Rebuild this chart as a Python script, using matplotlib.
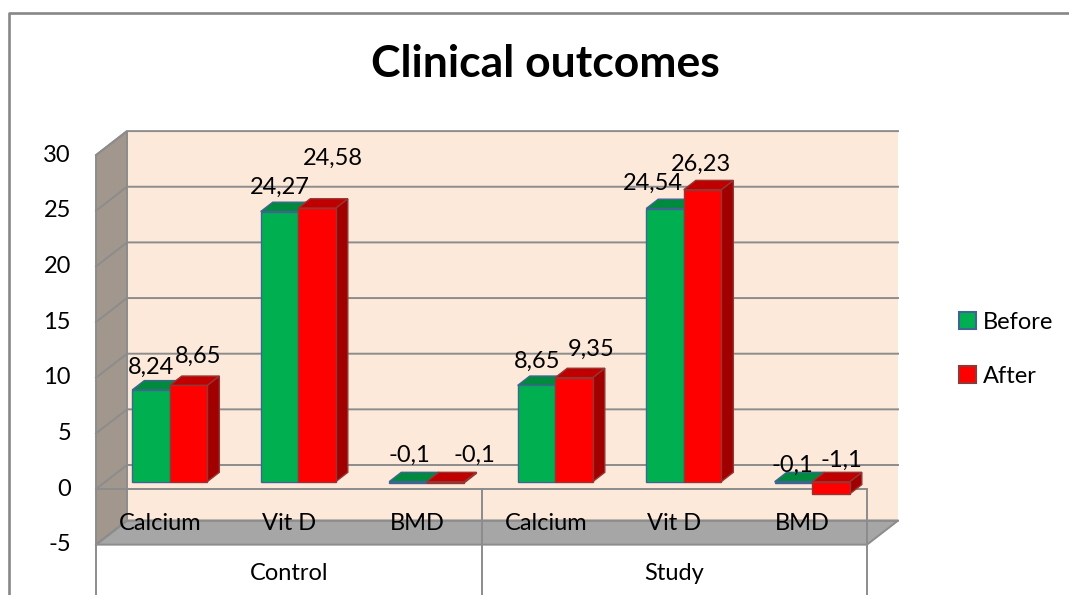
import matplotlib
matplotlib.use("Agg")
import matplotlib.pyplot as plt
from matplotlib.patches import Polygon, Patch
from matplotlib.lines import Line2D
from matplotlib.transforms import offset_copy

plt.rcParams['font.family'] = ['Lato', 'DejaVu Sans']

# ---- data ----
groups = ["Control", "Study"]
measures = ["Calcium", "Vit D", "BMD", "Calcium", "Vit D", "BMD"]
series_names = ["Before", "After"]
before = [8.24, 24.27, -0.1, 8.65, 24.54, -0.1]
after = [8.65, 24.58, -0.1, 9.35, 26.23, -1.1]
y_ticks = [-5, 0, 5, 10, 15, 20, 25, 30]

# ---- layout (pixels) ----
W, H, DPI = 1069, 595, 100
CAT_PX = 128.5          # width of one category on the front plane
X0_PX = 96              # left edge of the front plane
VAL_PX = 11.13          # pixels per value unit
Y0_PX = 489             # value 0 on the front plane
DEPTH_X_PX, DEPTH_Y_PX = 31, 24   # oblique depth offset of the back wall
FS = 17                 # text size of labels

DX = DEPTH_X_PX / CAT_PX
DY = DEPTH_Y_PX / VAL_PX
Z0, Z1 = 0.305, 0.695   # bar depth range
HALF = 0.292            # width of one bar in category units
VMIN, VMAX = y_ticks[0], y_ticks[-1]
n = len(measures)

colors = {
    "Before": dict(front="#00b050", top="#008a3e", side="#00733a", edge="#3f6494"),
    "After": dict(front="#ff0000", top="#c00000", side="#a00000", edge="#943634"),
}
grid_c = "#8c8c8c"


def proj(x, v, z):
    return (x + z * DX, v + z * DY)


fig = plt.figure(figsize=(W / DPI, H / DPI), dpi=DPI)
ax = fig.add_axes([0, 0, 1, 1])
ax.set_xlim(-0.5 - X0_PX / CAT_PX, -0.5 + (W - X0_PX) / CAT_PX)
ax.set_ylim((Y0_PX - H) / VAL_PX, Y0_PX / VAL_PX)
ax.axis("off")

# chart area frame (top and left edges)
fig.add_artist(Line2D([9 / W, 9 / W, 1.01], [-0.01, 1 - 13 / H, 1 - 13 / H],
                      color="#878787", lw=1.9))

xl, xr = -0.5, n - 0.5

# back wall
ax.add_patch(Polygon([proj(xl, VMIN, 1), proj(xr, VMIN, 1), proj(xr, VMAX, 1), proj(xl, VMAX, 1)],
                     closed=True, fc="#fde9d9", ec="none", zorder=1))
# left wall
ax.add_patch(Polygon([proj(xl, VMIN, 0), proj(xl, VMIN, 1), proj(xl, VMAX, 1), proj(xl, VMAX, 0)],
                     closed=True, fc="#a1978d", ec=grid_c, lw=1.4, zorder=1))
# floor
ax.add_patch(Polygon([proj(xl, VMIN, 0), proj(xr, VMIN, 0), proj(xr, VMIN, 1), proj(xl, VMIN, 1)],
                     closed=True, fc="#a6a6a6", ec=grid_c, lw=1.4, zorder=2))

# gridlines on back and left walls
for v in y_ticks:
    p0, p1, p2 = proj(xl, v, 0), proj(xl, v, 1), proj(xr, v, 1)
    ax.plot([p0[0], p1[0], p2[0]], [p0[1], p1[1], p2[1]], color=grid_c, lw=1.4, zorder=2,
            solid_joinstyle="miter")

# value-zero line on the front plane
ax.plot([xl, xr], [0, 0], color=grid_c, lw=1.4, zorder=3)

# group separators below the axis
ybot = ax.get_ylim()[0]
for xs in [xl, xl + 3, xr]:
    ax.plot([xs, xs], [0 if xs != xl else VMIN, ybot], color=grid_c, lw=1.4, zorder=3)


def draw_bar(x_left, x_right, value, c):
    lo, hi = min(0, value), max(0, value)
    front = [proj(x_left, lo, Z0), proj(x_right, lo, Z0), proj(x_right, hi, Z0), proj(x_left, hi, Z0)]
    top = [proj(x_left, hi, Z0), proj(x_right, hi, Z0), proj(x_right, hi, Z1), proj(x_left, hi, Z1)]
    side = [proj(x_right, lo, Z0), proj(x_right, lo, Z1), proj(x_right, hi, Z1), proj(x_right, hi, Z0)]
    for pts, fc in [(side, c["side"]), (top, c["top"]), (front, c["front"])]:
        ax.add_patch(Polygon(pts, closed=True, fc=fc, ec=c["edge"], lw=1.0,
                             joinstyle="miter", zorder=4))


# data-label placement tweaks (pixel offsets from the bar's top centre)
label_off = {
    "Before": [(-6, 18), (-5.5, 20), (-5, 22), (-5.5, 19), (-18, 21), (-7.5, 12)],
    "After": [(4, 24), (10, 45), (22.5, 22), (11, 24), (-7.5, 21), (4, 17)],
}

for i in range(n):
    for name, vals, xa in [("Before", before, i - HALF), ("After", after, i)]:
        c = colors[name]
        v = vals[i]
        draw_bar(xa, xa + HALF, v, c)
        cx, cy = proj(xa + HALF / 2, max(v, 0), 0.5)
        ox, oy = label_off[name][i]
        tr = offset_copy(ax.transData, fig=fig, x=ox, y=oy, units="dots")
        ax.text(cx, cy, f"{v:g}".replace(".", ","), transform=tr, ha="center", va="center",
                fontsize=FS, color="black", zorder=6)

# value axis labels
tick_tr = offset_copy(ax.transData, fig=fig, x=-25, y=0, units="dots")
for v in y_ticks:
    ax.text(xl, v, f"{v}", transform=tick_tr, ha="right", va="center", fontsize=FS, zorder=6)

# category labels
for i, m in enumerate(measures):
    ax.text(i, (Y0_PX - 524) / VAL_PX, m, ha="center", va="center", fontsize=FS, zorder=6)
for g, gx in zip(groups, [1, 4]):
    ax.text(gx, (Y0_PX - 574) / VAL_PX, g, ha="center", va="center", fontsize=FS, zorder=6)

# title
fig.text(545.5 / W, 1 - 64 / H, "Clinical outcomes", ha="center", va="center",
         fontsize=32, fontweight="bold")

# legend
handles = [Patch(fc=colors[s]["front"], ec=colors[s]["edge"], lw=1.5) for s in series_names]
ax.legend(handles, series_names, loc="upper left", bbox_to_anchor=(959 / W, 1 - 312 / H),
          bbox_transform=fig.transFigure, frameon=False, fontsize=FS,
          handlelength=0.72, handleheight=0.72, handletextpad=0.3, labelspacing=1.4,
          borderpad=0, borderaxespad=0)

fig.savefig("out.png", dpi=DPI)
